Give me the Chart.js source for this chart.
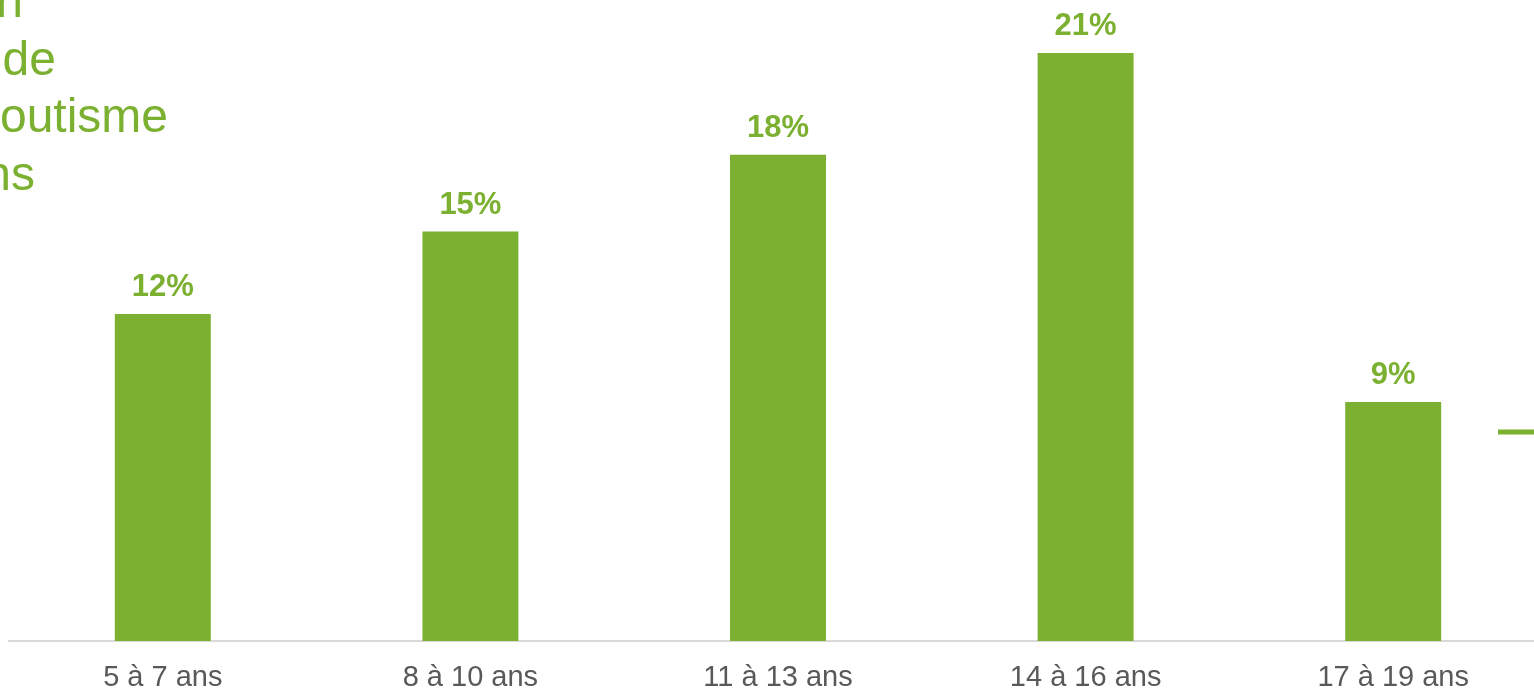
<!DOCTYPE html>
<html lang="fr">
<head>
<meta charset="utf-8">
<script src="https://cdn.jsdelivr.net/npm/chart.js@4/dist/chart.umd.min.js"></script>
<style>
  html, body { margin: 0; padding: 0; background: #fff; overflow: hidden; }
  #wrap { position: relative; width: 1560px; height: 691px; }
</style>
</head>
<body>
<div id="wrap"><canvas id="chart"></canvas></div>
<script>
"use strict";
const GREEN = "#7bb031";
const GREY  = "#595959";
const FONT  = "'Liberation Sans', Arial, sans-serif";

// Tranches d'âge et parts (%)
const AGE_GROUPS = ["5 à 7 ans", "8 à 10 ans", "11 à 13 ans", "14 à 16 ans", "17 à 19 ans"];
const SHARES     = [11.9, 14.9, 17.7, 21.4, 8.7];
const TITLE_LINES = ["Répartition", "par âge de", "l'effectif du scoutisme", "de 5 à 19 ans"];
const TITLE_ENDS  = [23, 56, 168, 35];   // right edge of each title line (cropped on the left)

/* ── Value labels above bars + cropped title ───────────────── */
const decorPlugin = {
  id: "decor",
  afterDatasetsDraw(chart) {
    const ctx = chart.ctx;
    const meta = chart.getDatasetMeta(0);
    ctx.save();
    ctx.fillStyle = GREEN;
    ctx.font = "bold 31px " + FONT;
    ctx.textAlign = "center";
    ctx.textBaseline = "alphabetic";
    meta.data.forEach((bar, i) => {
      ctx.fillText(Math.round(SHARES[i]) + "%", bar.x, bar.y - 18);
    });

    // title (partly outside the frame)
    ctx.font = "48px " + FONT;
    ctx.textAlign = "right";
    TITLE_LINES.forEach((t, i) => ctx.fillText(t, TITLE_ENDS[i], 17 + i * 57.5));

    // legend stroke at the right edge
    ctx.strokeStyle = GREEN;
    ctx.lineWidth = 5;
    ctx.beginPath();
    ctx.moveTo(1498, 432);
    ctx.lineTo(1560, 432);
    ctx.stroke();
    ctx.restore();
  },
};

new Chart(document.getElementById("chart"), {
  type: "bar",
  data: {
    labels: AGE_GROUPS,
    datasets: [{
      data: SHARES,
      backgroundColor: GREEN,
      borderWidth: 0,
      categoryPercentage: 1,
      barPercentage: 0.312,
    }],
  },
  options: {
    responsive: true,
    maintainAspectRatio: false,
    animation: false,
    layout: { padding: { top: 9, left: 9, right: 13, bottom: 0 } },
    plugins: { legend: { display: false }, tooltip: { enabled: false } },
    scales: {
      x: {
        grid: { drawOnChartArea: false, drawTicks: false },
        border: { display: true, color: "#d9d9d9", width: 2 },
        ticks: { color: GREY, font: { family: FONT, size: 29 }, padding: 20, maxRotation: 0 },
        afterFit: s => { s.height = 50; },
      },
      y: { display: false, min: 0, max: 23 },
    },
  },
  plugins: [decorPlugin],
});
</script>
</body>
</html>
